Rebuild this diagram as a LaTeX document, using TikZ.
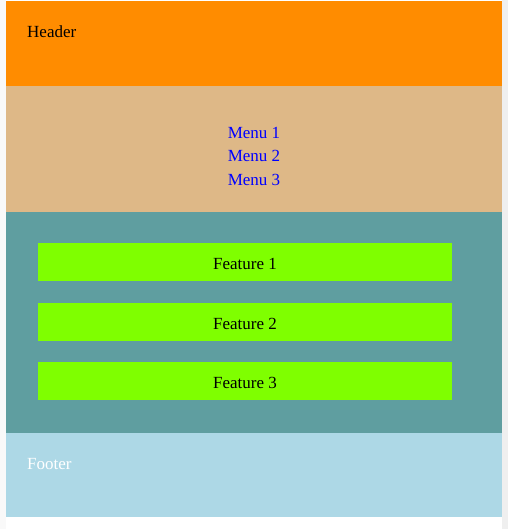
\documentclass[tikz,border=0pt]{standalone}
\usepackage{fontspec}
\setmainfont{Liberation Serif}
\definecolor{hdr}{HTML}{FF8C00}
\definecolor{menu}{HTML}{DEB887}
\definecolor{feat}{HTML}{5F9EA0}
\definecolor{fbox}{HTML}{7FFF00}
\definecolor{foot}{HTML}{ADD8E6}
\definecolor{strip}{HTML}{EFEFEF}
\begin{document}
\begin{tikzpicture}[x=1bp,y=-1bp,
  band/.style={fill=#1,draw=none},
  txt/.style={inner sep=0pt,anchor=base,font=\fontsize{17bp}{20bp}\selectfont},
  featbox/.style={fill=fbox,draw=none,minimum width=414bp,minimum height=38bp,inner sep=0pt,text height=14bp,text depth=0pt,font=\fontsize{17bp}{20bp}\selectfont}]
\useasboundingbox (0,0) rectangle (508,529);
\fill[white] (0,0) rectangle (508,529);
\fill[strip] (502,0) rectangle (508,529);
\fill[strip!40] (0,0) rectangle (6,529);
\fill[band=hdr] (6,1) rectangle (502,86);
\fill[band=menu] (6,86) rectangle (502,212);
\fill[band=feat] (6,212) rectangle (502,433);
\fill[band=foot] (6,433) rectangle (502,517);
\node[txt,anchor=base west] (header) at (27,38) {Header};
\node[txt,text=blue] (menu1) at (254,138.2) {Menu 1};
\node[txt,text=blue] (menu2) at (254,161.9) {Menu 2};
\node[txt,text=blue] (menu3) at (254,185.6) {Menu 3};
\node[featbox] (f1) at (245,262) {Feature 1};
\node[featbox] (f2) at (245,322) {Feature 2};
\node[featbox] (f3) at (245,381) {Feature 3};
\node[txt,anchor=base west,text=white] (footer) at (27,469.3) {Footer};
\end{tikzpicture}
\end{document}
